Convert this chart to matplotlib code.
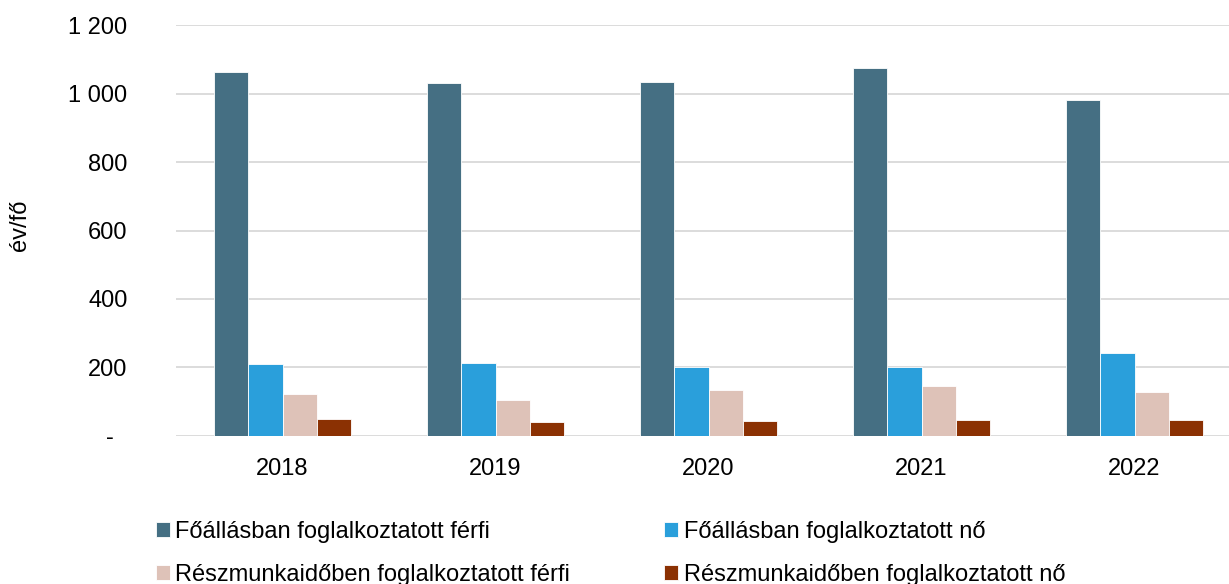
import matplotlib
matplotlib.use("Agg")
import matplotlib.pyplot as plt
import numpy as np

years = ["2018", "2019", "2020", "2021", "2022"]
series_names = [
    "Főállásban foglalkoztatott férfi",
    "Főállásban foglalkoztatott nő",
    "Részmunkaidőben foglalkoztatott férfi",
    "Részmunkaidőben foglalkoztatott nő",
]
fo_ferfi = [1063, 1032, 1034, 1074, 981]
fo_no = [209, 212, 201, 200, 241]
resz_ferfi = [123, 104, 134, 145, 128]
resz_no = [50, 39, 43, 46, 46]
yticks = [0, 200, 400, 600, 800, 1000, 1200]
ytick_labels = ["-  ", "200", "400", "600", "800", "1 000", "1 200"]
colors = ["#456F83", "#2A9FDB", "#DEC2B8", "#8B3103"]

plt.rcParams["font.family"] = ["Liberation Sans", "DejaVu Sans"]

W, H = 1229, 584
FS = 17
fig = plt.figure(figsize=(W / 100, H / 100), dpi=100)
left, right, top, bottom = 176, 1241, 25.3, 435.7
ax = fig.add_axes([left / W, 1 - bottom / H, (right - left) / W, (bottom - top) / H])

x = np.arange(len(years))
w = 0.16
data = [fo_ferfi, fo_no, resz_ferfi, resz_no]
handles = []
for i, (vals, c, name) in enumerate(zip(data, colors, series_names)):
    b = ax.bar(x + (i - 1.5) * w, vals, width=w, color=c, label=name,
               edgecolor="white", linewidth=0.6, zorder=3)
    handles.append(b)

ax.set_xlim(-0.5, 4.5)
ax.set_ylim(0, 1200)
ax.set_yticks(yticks)
ax.set_yticklabels(ytick_labels)
ax.set_xticks(x)
ax.set_xticklabels(years)
ax.tick_params(axis="both", length=0, labelsize=FS, colors="#000000")
ax.tick_params(axis="y", pad=35)
ax.tick_params(axis="x", pad=16)
ax.grid(axis="y", color="#D9D9D9", linewidth=1.3, zorder=0)
for s in ax.spines.values():
    s.set_visible(False)

fig.text(20 / W, 1 - 225 / H, "év/fő", rotation=90, fontsize=FS,
         ha="center", va="center")

order = [0, 2, 1, 3]
fig.legend([handles[i] for i in order], [series_names[i] for i in order],
           ncol=2, loc="upper left", bbox_to_anchor=(139 / W, 1 - 504 / H),
           frameon=False, fontsize=FS, handlelength=0.6, handleheight=0.6,
           handletextpad=0.22, columnspacing=4.0, labelspacing=0.9,
           borderpad=0.2)

fig.savefig("out.png", dpi=100)
